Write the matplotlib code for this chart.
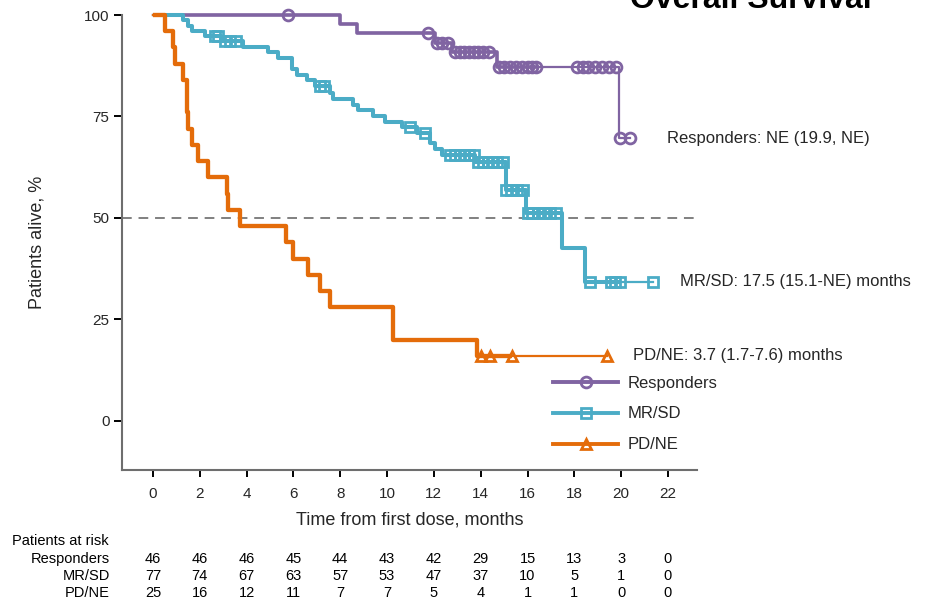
import numpy as np
import matplotlib
matplotlib.use('Agg')
import matplotlib.pyplot as plt
import matplotlib.transforms as mtransforms
from matplotlib.lines import Line2D

# -----------------------------------------------------------------------------------------------------------
# Overall survival by response group (Kaplan-Meier style step curves)
# -----------------------------------------------------------------------------------------------------------

groups = ['Responders', 'MR/SD', 'PD/NE']

# event times (months) and survival (%) after each step
resp_times = [0, 7.99, 8.70, 12.05, 12.76, 14.68, 19.92]
resp_surv = [100, 97.8, 95.5, 93.2, 91.0, 87.3, 69.6]
resp_end = 20.38
resp_cens = [5.75, 11.76, 12.15, 12.35, 12.6, 12.9, 13.1, 13.3, 13.5, 13.7, 13.9, 14.1, 14.35,
             14.8, 15.0, 15.25, 15.5, 15.75, 16.0, 16.2, 16.35,
             18.1, 18.35, 18.6, 18.9, 19.2, 19.5, 19.8, 19.95, 20.38]

mrsd_times = [0, 1.30, 1.51, 1.65, 2.22, 2.90, 3.86, 4.93, 5.35, 5.92, 6.14, 6.57, 6.92, 7.56, 7.70,
              8.56, 8.77, 9.41, 9.91, 10.62, 11.26, 11.83, 12.05, 12.33, 13.75, 15.08, 15.93, 17.46, 18.45]
mrsd_surv = [100, 98.7, 97.4, 96.1, 94.8, 93.5, 92.1, 90.8, 89.4, 86.7, 85.3, 83.9, 82.5, 80.9, 79.4,
             77.8, 76.5, 75.1, 73.7, 72.4, 70.9, 68.4, 67.0, 65.5, 63.9, 56.9, 51.2, 42.5, 34.3]
mrsd_end = 21.37
mrsd_cens = [2.65, 2.8, 3.1, 3.3, 3.55, 7.15, 7.3, 10.98, 11.62,
             12.7, 12.9, 13.1, 13.3, 13.5, 13.7, 13.9, 14.1, 14.3, 14.5, 14.7, 14.95,
             15.1, 15.3, 15.55, 15.8, 16.0, 16.2, 16.45, 16.7, 16.95, 17.2,
             18.67, 19.55, 19.75, 19.95, 21.37]

pdne_times = [0, 0.51, 0.87, 0.94, 1.30, 1.44, 1.51, 1.65, 1.94, 2.36, 3.15, 3.22, 3.72,
              5.67, 6.00, 6.64, 7.13, 7.56, 10.27, 13.83]
pdne_surv = [100, 96, 92, 88, 84, 76, 72, 68, 64, 60, 56, 52, 48,
             44, 40, 36, 32, 28, 20, 16]
pdne_end = 19.41
pdne_cens = [14.0, 14.4, 15.32, 19.41]

medians = ['Responders: NE (19.9, NE)', 'MR/SD: 17.5 (15.1-NE) months', 'PD/NE: 3.7 (1.7-7.6) months']

risk_ticks = [0, 2, 4, 6, 8, 10, 12, 14, 16, 18, 20, 22]
risk_resp = [46, 46, 46, 45, 44, 43, 42, 29, 15, 13, 3, 0]
risk_mrsd = [77, 74, 67, 63, 57, 53, 47, 37, 10, 5, 1, 0]
risk_pdne = [25, 16, 12, 11, 7, 7, 5, 4, 1, 1, 0, 0]

purple = '#8064a2'
teal = '#4bacc6'
orange = '#e46c0a'
txt = '#262626'

plt.rcParams['font.family'] = ['Liberation Sans', 'DejaVu Sans']


def surv_at(t, times, surv):
    idx = np.searchsorted(times, t, side='right') - 1
    return np.asarray(surv)[idx]


def draw_curve(ax, times, surv, end, thin_from, cens, color, marker, lw, z):
    t = np.append(times, end)
    s = np.append(surv, surv[-1])
    ax.step(t, s, where='post', color=color, lw=1.6, clip_on=False, zorder=z)
    m = t < thin_from
    ax.step(np.append(t[m], thin_from), np.append(s[m], s[m][-1]), where='post',
            color=color, lw=lw, clip_on=False, zorder=z, solid_capstyle='butt')
    cens = np.asarray(cens)
    ax.plot(cens, surv_at(cens, times, surv), ls='none', marker=marker, ms=7.8,
            mfc='none', mec=color, mew=2.0, clip_on=False, zorder=z)


fig = plt.figure(figsize=(9.27, 6.03), dpi=100)
ax = fig.add_axes([0.1316, 0.2206, 0.6203, 0.7545])

ax.axhline(50, color='#808080', lw=1.4, ls=(0, (5, 3.5)), zorder=1)

draw_curve(ax, resp_times, resp_surv, resp_end, 16.4, resp_cens, purple, 'o', 2.6, 3)
draw_curve(ax, mrsd_times, mrsd_surv, mrsd_end, 19.96, mrsd_cens, teal, 's', 2.9, 4)
draw_curve(ax, pdne_times, pdne_surv, pdne_end, 15.33, pdne_cens, orange, '^', 3.1, 5)

ax.set_xlim(-1.32, 23.24)
ax.set_ylim(-12.1, 100)
ax.set_xticks(risk_ticks)
ax.set_yticks([0, 25, 50, 75, 100])
ax.tick_params(axis='y', length=6, width=1.4, pad=3, labelsize=11, labelcolor=txt, color='black')
ax.tick_params(axis='x', length=5, width=1.4, pad=7, labelsize=11, labelcolor=txt, color='black')
for side in ['top', 'right']:
    ax.spines[side].set_visible(False)
for side in ['left', 'bottom']:
    ax.spines[side].set_color('#6e6e6e')
    ax.spines[side].set_linewidth(1.5)

ax.set_xlabel('Time from first dose, months', fontsize=13, color=txt, labelpad=8)
ax.set_ylabel('Patients alive, %', fontsize=13, color=txt, labelpad=28)

# median labels at the end of each curve
ax.text(21.95, surv_at(resp_end, resp_times, resp_surv), medians[0], fontsize=12, color=txt,
        va='center', ha='left', clip_on=False)
ax.text(22.5, surv_at(mrsd_end, mrsd_times, mrsd_surv), medians[1], fontsize=12, color=txt,
        va='center', ha='left', clip_on=False)
ax.text(20.5, surv_at(pdne_end, pdne_times, pdne_surv), medians[2], fontsize=12, color=txt,
        va='center', ha='left', clip_on=False)

handles = [Line2D([], [], color=c, lw=2.8, marker=mk, ms=7.8, mfc='none', mec=c, mew=2.0)
           for c, mk in zip([purple, teal, orange], ['o', 's', '^'])]
leg = ax.legend(handles, groups, loc='center left', bbox_to_anchor=(553 / 927, 1 - 414 / 603),
                bbox_transform=fig.transFigure, frameon=False, fontsize=12, handlelength=3.9,
                handletextpad=0.6, labelspacing=0.95, borderpad=0, borderaxespad=0)
for t in leg.get_texts():
    t.set_color(txt)

fig.text(630 / 927, 1 - 8 / 603, 'Overall Survival', fontsize=23, fontweight='bold',
         ha='left', va='baseline', color='black')

# patients at risk table
tr = mtransforms.blended_transform_factory(ax.transData, fig.transFigure)
fig.text(12 / 927, 1 - 541 / 603, 'Patients at risk', fontsize=10.5, color='black', va='center')
for row, (name, vals) in enumerate(zip(groups, [risk_resp, risk_mrsd, risk_pdne])):
    yy = 1 - (559 + 17 * row) / 603
    fig.text(110 / 927, yy, name, fontsize=10.5, color='black', va='center', ha='right')
    for x, v in zip(risk_ticks, vals):
        ax.text(x, yy, str(v), transform=tr, fontsize=10.5, color='black', va='center', ha='center')

fig.savefig('out.png', dpi=100)
